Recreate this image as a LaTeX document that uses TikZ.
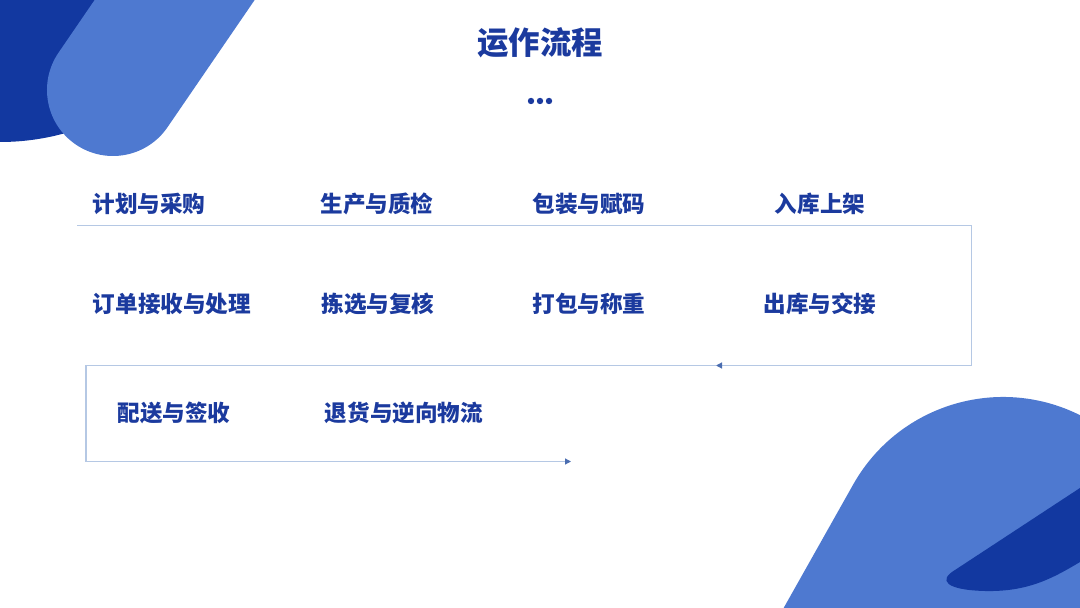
\documentclass[tikz,border=0pt]{standalone}
\usepackage{fontspec}
\newfontfamily\cjk{Noto Sans CJK SC}
\usetikzlibrary{arrows.meta}
\definecolor{txtblue}{HTML}{1B3A9E}
\definecolor{lightblue}{HTML}{4E79D0}
\definecolor{darkblue}{HTML}{1238A0}
\definecolor{linec}{HTML}{B5C8E4}
\definecolor{tipc}{HTML}{4A6DB0}
\begin{document}
\begin{tikzpicture}[x=0.5pt,y=-0.5pt,
  lbl/.style={font=\cjk\bfseries\fontsize{11.3}{13}\selectfont, text=txtblue, inner sep=0pt},
  ttl/.style={font=\cjk\bfseries\fontsize{15.7}{18}\selectfont, text=txtblue, inner sep=0pt},
  flow/.style={draw=linec, line width=0.6pt},
  tipend/.style={-{Triangle[length=3pt,width=3pt,color=tipc,fill=tipc]}},
  dotc/.style={fill=txtblue}]
\useasboundingbox (0,0) rectangle (1080,608);
\begin{scope}
  \clip (0,0) rectangle (1080,608);
  % top-left decoration
  \fill[darkblue] (0,-100) circle[radius=242];
  \draw[lightblue, line width=66pt, line cap=round] (113,90) -- (282.5,-157.5);
  % bottom-right decoration
  \draw[lightblue, line width=172pt, line cap=round] (1003,569) -- (807,917);
  \fill[darkblue] (1085,484.7) -- (955,570) .. controls (938,580) and (945,590) .. (985,591)
     .. controls (1030,592) and (1055,577) .. (1085,559) -- cycle;
\end{scope}
% title
\node[ttl] (title) at (540,43) {运作流程};
\fill[dotc] (531,101) circle[radius=3.2];
\fill[dotc] (540,101) circle[radius=3.2];
\fill[dotc] (549,101) circle[radius=3.2];
% labels
\node[lbl] (a1) at (149,204) {计划与采购};
\node[lbl] (a2) at (377,204) {生产与质检};
\node[lbl] (a3) at (589,204) {包装与赋码};
\node[lbl] (a4) at (820,204) {入库上架};
\node[lbl] (b1) at (172,304) {订单接收与处理};
\node[lbl] (b2) at (378,304) {拣选与复核};
\node[lbl] (b3) at (589,304) {打包与称重};
\node[lbl] (b4) at (820,304) {出库与交接};
\node[lbl] (c1) at (174,413) {配送与签收};
\node[lbl] (c2) at (404,413) {退货与逆向物流};
% flow line
\coordinate (p1) at (77,225.5);
\coordinate (p2) at (971.5,225.5);
\coordinate (p3) at (971.5,365.5);
\coordinate (pm) at (716,365.5);
\coordinate (p4) at (86,365.5);
\coordinate (p5) at (86,461.5);
\coordinate (p6) at (571,461.5);
\draw[flow,tipend] (p1) -- (p2) -- (p3) -- (pm);
\draw[flow,tipend] (pm) -- (p4) -- (p5) -- (p6);
\end{tikzpicture}
\end{document}
